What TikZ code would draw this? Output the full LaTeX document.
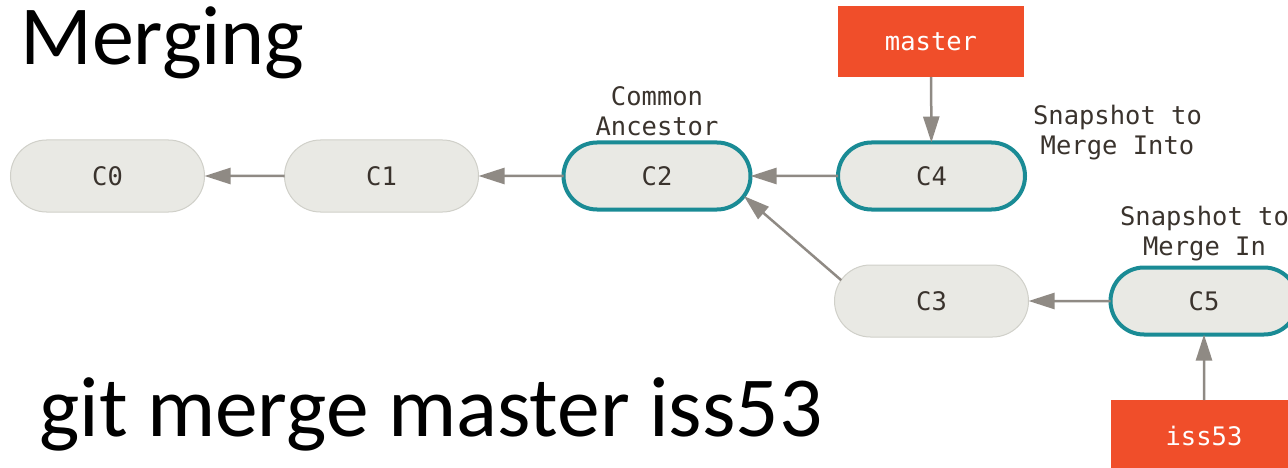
\documentclass[tikz,border=0pt]{standalone}
\usepackage{fontspec}
\setmainfont{Carlito}
\setmonofont{DejaVu Sans Mono}
\usetikzlibrary{shapes.misc,arrows.meta}
\definecolor{nodefill}{HTML}{E9E9E4}
\definecolor{nodeline}{HTML}{D0D0C9}
\definecolor{gitteal}{HTML}{1A8B95}
\definecolor{gitorange}{HTML}{F04E2A}
\definecolor{arrowgray}{HTML}{8F8A84}
\definecolor{txtdark}{HTML}{3A332D}
\tikzset{
  mono/.style={font=\fontsize{25.5}{30}\selectfont\ttfamily},
  commit/.style={mono, rounded rectangle, fill=nodefill, draw=nodeline, line width=1pt,
    minimum width=194pt, minimum height=72pt, inner sep=0pt, outer sep=0pt, text=txtdark},
  tipcommit/.style={commit, draw=gitteal, line width=4pt, minimum width=187pt, minimum height=67pt},
  branch/.style={mono, rectangle, fill=gitorange, text=white, minimum width=186pt,
    minimum height=71pt, inner sep=0pt, outer sep=0pt},
  note/.style={mono, text=txtdark, align=center, inner sep=0pt},
  parent/.style={draw=arrowgray, line width=2.5pt, -{Triangle[length=26pt,width=16pt]}},
  bigtext/.style={anchor=base west, inner sep=0pt}
}
\begin{document}
\begin{tikzpicture}[x=1pt,y=-1pt]
\useasboundingbox (0,0) rectangle (1288,468);
\clip (0,0) rectangle (1288,468);
\node[bigtext, font=\fontsize{84}{100}\selectfont] (title) at (20,65) {Merging};
\node[bigtext, font=\fontsize{85.5}{100}\selectfont] (cmd) at (39,436) {git merge master iss53};

\node[commit] (C0) at (107.5,176) {C0};
\node[commit] (C1) at (381.5,176) {C1};
\node[tipcommit] (C2) at (657,176) {C2};
\node[tipcommit] (C4) at (931.5,176) {C4};
\node[commit] (C3) at (931.5,301) {C3};
\node[tipcommit] (C5) at (1204,301) {C5};

\node[branch] (master) at (931,41.5) {master};
\node[branch] (iss53) at (1204,435.5) {iss53};

\node[note, anchor=base] (anc) at (657,136) {Common\\Ancestor};
\node[note, anchor=base] (into) at (1117.5,155) {Snapshot to\\Merge Into};
\node[note, anchor=base] (in) at (1204.5,255) {Snapshot to\\Merge In};

\draw[parent] (C1) -- (C0);
\draw[parent] (C2) -- (C1);
\draw[parent] (C4) -- (C2);
\draw[parent] (C3.167) -- (C2.-13);
\draw[parent] (C5) -- (C3);
\draw[parent] (master) -- (C4);
\draw[parent] (iss53) -- (C5);
\end{tikzpicture}
\end{document}
